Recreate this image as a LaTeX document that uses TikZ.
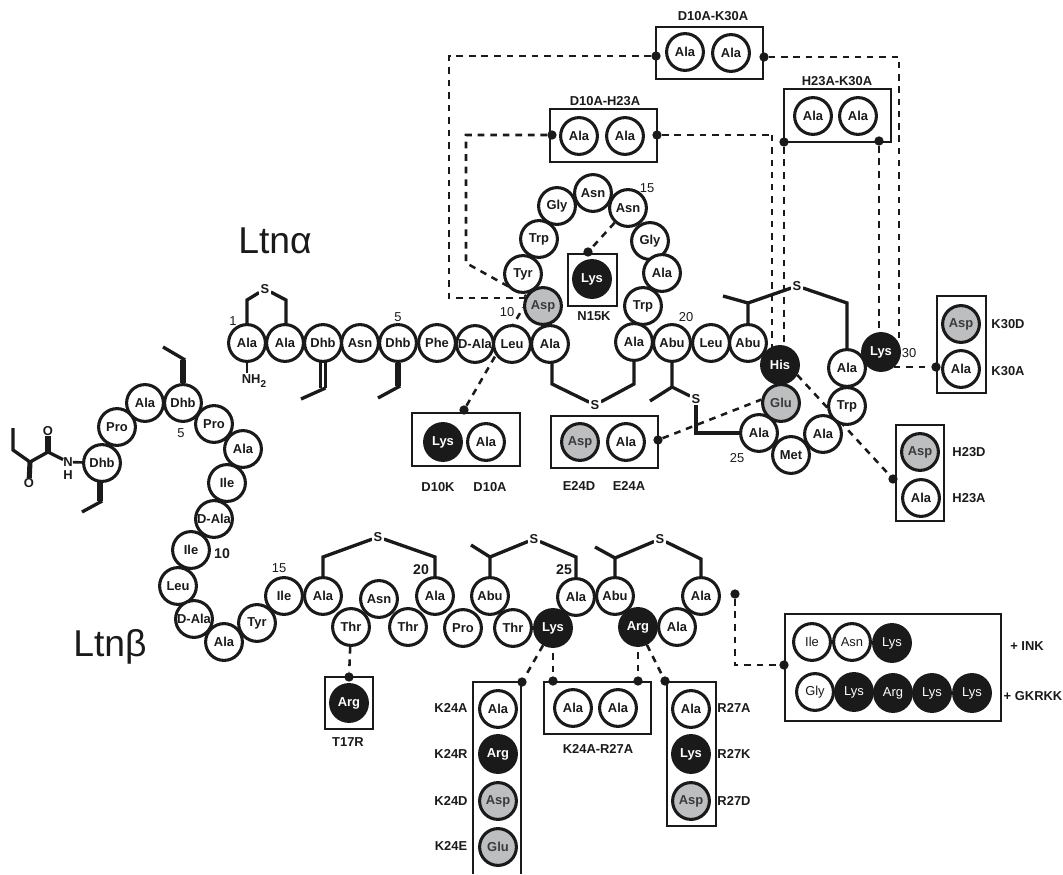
\documentclass[tikz,border=0pt]{standalone}
\usepackage{fontspec}
\setmainfont{Liberation Sans}
\pgfdeclarelayer{bg}
\pgfsetlayers{bg,main}
\definecolor{gr}{HTML}{BDBEC0}
\definecolor{ink}{HTML}{1A1A1A}
\definecolor{gtx}{HTML}{3A3A3A}
\tikzset{
  res/.style={circle,draw=ink,fill=white,line width=2.3pt,minimum size=27.6pt,inner sep=0pt,text=ink,font=\fontsize{9.7}{11}\selectfont\bfseries},
  blk/.style={res,fill=ink,text=white},
  gry/.style={res,fill=gr,text=gtx},
  rw/.style={res,font=\fontsize{9.7}{11}\selectfont},
  rb/.style={blk,font=\fontsize{9.7}{11}\selectfont},
  mbox/.style={draw=ink,line width=1.7pt,inner sep=0pt},
  mdot/.style={circle,fill=ink,inner sep=0pt,minimum size=7pt},
  lab/.style={inner sep=0pt,text=ink,font=\fontsize{9.7}{11}\selectfont\bfseries},
  num/.style={inner sep=0pt,text=ink,font=\fontsize{9.7}{11}\selectfont},
  bnum/.style={inner sep=0pt,text=ink,font=\fontsize{10.6}{12}\selectfont\bfseries},
  sulf/.style={lab,fill=white,inner sep=1pt},
  bond/.style={draw=ink,line width=2.5pt,line join=miter},
  thick bond/.style={draw=ink,line width=4.8pt},
  dbl/.style={draw=ink,line width=1.7pt},
  dsh/.style={draw=ink,line width=1.9pt,dash pattern=on 5pt off 4.4pt},
  dshthin/.style={draw=ink,line width=1.5pt,dash pattern=on 4.8pt off 4.4pt},
  big/.style={inner sep=0pt,text=ink,font=\fontsize{28}{32}\selectfont}
}
\begin{document}
\begin{tikzpicture}[x=0.75pt,y=-0.75pt]
\useasboundingbox (0,0) rectangle (1063,874);
% boxes
\foreach \n/\x/\y/\w/\h in {
 bK/961.5/344.5/49/97, bH/920/473/48/96, bDK/709.5/53/107/52, bDH/603.5/135.5/107/53,
 bHK/837.5/115.5/107/53, bN/592.5/280/49/52, bD/466/439.5/108/53, bE/604.5/442/107/52,
 bT/349/703/48/52, bKR/597.5/708/107/52, bR/691.5/754/49/144, bG/893/667.5/216/107}
  \node[mbox,minimum width=\w*0.75pt,minimum height=\h*0.75pt] (\n) at (\x,\y) {};
\coordinate (kbl) at (473,874); \coordinate (kbtl) at (473,682);
\coordinate (kbtr) at (521,682); \coordinate (kbr) at (521,874);
\draw[draw=ink,line width=1.7pt] (kbl) -- (kbtl) -- (kbtr) -- (kbr);
% Ltn alpha
\foreach \n/\x/\y/\s/\t in {
 a1/247/343/res/Ala, a2/285/343/res/Ala, a3/323/343/res/Dhb, a4/360/343/res/Asn, a5/398/343/res/Dhb,
 a6/437/343/res/Phe, a7/475/344/res/D-Ala, a8/512/344/res/Leu, a9/550/344/res/Ala,
 a10/543/306/gry/Asp, a11/523/274/res/Tyr, a12/539/239/res/Trp, a13/557/206/res/Gly, a14/593/193/res/Asn,
 a15/628/208/res/Asn, a16/650/241/res/Gly, a17/662/273/res/Ala, a18/643/306/res/Trp, a19/634/342/res/Ala,
 a20/672/343/res/Abu, a21/711/343/res/Leu, a22/748/343/res/Abu, a23/780/365/blk/His, a24/781/403/gry/Glu,
 a25/759/433/res/Ala, a26/791/455/res/Met, a27/823/434/res/Ala, a28/847/406/res/Trp, a29/847/368/res/Ala, a30/881/352/blk/Lys}
  \node[\s] (\n) at (\x,\y) {\t};
% Ltn beta
\foreach \n/\x/\y/\s/\t in {
 c1/102/463/res/Dhb, c2/117/427/res/Pro, c3/145/403/res/Ala, c4/183/403/res/Dhb, c5/214/424/res/Pro,
 c6/243/449/res/Ala, c7/227/483/res/Ile, c8/214/519/res/D-Ala, c9/191/550/res/Ile, c10/178/586/res/Leu,
 c11/194/619/res/D-Ala, c12/224/642/res/Ala, c13/257/623/res/Tyr, c14/284/596/res/Ile, c15/323/596/res/Ala,
 c16/351/627/res/Thr, c17/379/599/res/Asn, c18/408/627/res/Thr, c19/435/596/res/Ala, c20/463/628/res/Pro,
 c21/490/596/res/Abu, c22/513/628/res/Thr, c23/553/628/blk/Lys, c24/576/597/res/Ala, c25/615/596/res/Abu,
 c26/638/627/blk/Arg, c27/677/627/res/Ala, c28/701/596/res/Ala}
  \node[\s] (\n) at (\x,\y) {\t};
% box contents
\foreach \n/\x/\y/\s/\t in {
 m1/961/324/gry/Asp, m2/961/369/res/Ala, m3/920/452/gry/Asp, m4/921/498/res/Ala,
 m5/685/52/res/Ala, m6/731/53/res/Ala, m7/579/136/res/Ala, m8/625/136/res/Ala,
 m9/813/116/res/Ala, m10/858/116/res/Ala, m11/592/279/blk/Lys, m12/443/442/blk/Lys, m13/486/442/res/Ala,
 m14/580/442/gry/Asp, m15/626/442/res/Ala, m16/349/703/blk/Arg,
 m17/498/709/res/Ala, m18/498/754/blk/Arg, m19/498/801/gry/Asp, m20/498/847/gry/Glu,
 m21/573/708/res/Ala, m22/618/708/res/Ala, m23/691/709/res/Ala, m24/691/754/blk/Lys, m25/691/801/gry/Asp,
 g1/812/642/rw/Ile, g2/852/642/rw/Asn, g3/892/643/rb/Lys,
 g4/815/692/rw/Gly, g5/854/692/rb/Lys, g6/893/693/rb/Arg, g7/932/693/rb/Lys, g8/972/693/rb/Lys}
  \node[\s] (\n) at (\x,\y) {\t};
% dots
\foreach \n/\x/\y in {
 d1/936/367, d2/893/479, d3/656/56, d4/764/57, d5/552/135, d6/657/135, d7/784/142, d8/879/141,
 d9/588/252, d10/464/410, d11/658/440, d12/349/677, d13/522/682, d14/553/681, d15/638/681, d16/665/681,
 d17/735/594, d18/784/665}
  \node[mdot] (\n) at (\x,\y) {};
% sulfur
\foreach \n/\x/\y in {s1/265/289, s2/595/405, s3/696/399, s4/797/286, s5/378/537, s6/534/539, s7/660/539}
  \node[sulf] (\n) at (\x,\y) {S};
% texts
\foreach \n/\x/\y/\t in {
 t1/713/16/D10A-K30A, t2/605/101/D10A-H23A, t3/837/81/H23A-K30A, t4/594/316/N15K,
 t5/438/487/D10K, t6/490/487/D10A, t7/579/486/E24D, t8/629/486/E24A, t9/1008/324/K30D, t10/1008/371/K30A,
 t11/969/452/H23D, t12/969/498/H23A, t13/348/742/T17R, t14/451/708/K24A, t15/451/754/K24R, t16/451/801/K24D,
 t17/451/846/K24E, t18/598/749/K24A-R27A, t19/734/708/R27A, t20/734/754/R27K, t21/734/801/R27D,
 t22/1027/646/+ INK, t23/1033/696/+ GKRKK}
  \node[lab] (\n) at (\x,\y) {\t};
\foreach \n/\x/\y/\t in {n1/233/321/1, n2/398/317/5, n3/507/312/10, n4/647/188/15, n5/686/317/20, n6/737/458/25, n7/909/353/30, n8/181/433/5, n9/279/568/15}
  \node[num] (\n) at (\x,\y) {\t};
\foreach \n/\x/\y/\t in {n10/222/554/10, n11/421/570/20, n12/564/570/25}
  \node[bnum] (\n) at (\x,\y) {\t};
\node[big] (la) at (275,241) {Ltnα};
\node[big] (lb) at (110,647) {Ltnβ};
\node[lab] (nh2) at (254,381) {NH\raisebox{-2.5pt}{\fontsize{7.5}{9}\selectfont 2}};
% N-terminal group
\node[lab] (nN) at (68,462) {N};
\node[lab] (nH) at (68,475) {H};
\node[lab] (o1) at (48,431) {O};
\node[lab] (o2) at (29,483) {O};
% coordinates for bonds
\foreach \n/\x/\y in {
 p1/247/300, p2/286/300, p3/552/384, p4/634/384, p5/672/387, p6/650/401, p7/696/433,
 p8/748/303, p9/723/296, p10/847/303, p11/323/557, p12/435/557, p13/490/557, p14/471/545,
 p15/576/557, p16/615/558, p17/595/547, p18/701/559, nhb/247/373,
 q1/320.5/388, q2/325.5/388, q3/301/399, q4/398/386, q5/378/398,
 r1/183/360, r2/163/347, r3/100/501, r4/82/512, r5/48/452, r6/30/462, r7/13/450, r8/13/428,
 k1/449/56, k2/449/298, k3/899/57, k4/899/342, h1/466/135, h2/466/263, h3/772/135, f1/735/665}
  \coordinate (\n) at (\x,\y);
\begin{pgfonlayer}{bg}
 % thioether bridges
 \draw[bond] (a1) -- (p1) -- (s1) -- (p2) -- (p2 |- a2);
 \draw[bond] (p3 |- a9) -- (p3) -- (s2) -- (p4) -- (a19);
 \draw[bond] (a20) -- (p5) -- (s3);
 \draw[bond] (p5) -- (p6);
 \draw[bond] (s3) -- (p7) -- (a25);
 \draw[bond] (a22) -- (p8) -- (s4) -- (p10) -- (a29);
 \draw[bond] (p8) -- (p9);
 \draw[bond] (c15) -- (p11) -- (s5) -- (p12) -- (c19);
 \draw[bond] (c21) -- (p13) -- (s6) -- (p15) -- (c24);
 \draw[bond] (p13) -- (p14);
 \draw[bond] (c25) -- (p16) -- (s7) -- (p18) -- (c28);
 \draw[bond] (p16) -- (p17);
 % side chains
 \draw[bond,line width=1.9pt] (a1) -- (nhb);
 \draw[dbl] (q1 |- a3) -- (q1);
 \draw[dbl] (q2 |- a3) -- (q2);
 \draw[bond] (q2) -- (q3);
 \draw[thick bond] (a5) -- (q4);
 \draw[bond] ([xshift=1.6pt]q4) -- (q5);
 \draw[thick bond] (c4) -- (r1);
 \draw[bond] ([xshift=1.6pt]r1) -- (r2);
 \draw[thick bond] (c1 -| r3) -- (r3);
 \draw[bond] ([xshift=1.6pt]r3) -- (r4);
 % N-terminal acyl group
 \draw[bond,line width=2pt] (c1) -- (nN);
 \draw[bond] (nN) -- (r5) -- (r6) -- (r7) -- (r8);
 \draw[thick bond,line width=3.8pt] (r5) -- (o1);
 \draw[thick bond,line width=3.8pt] (r6) -- (o2);
 % dashed connectors
 \draw[dsh] (d3) -- (k1) -- (k2) -- (k2 -| a10);
 \draw[dshthin] (d4) -- (k3) -- (k4);
 \draw[dsh] (d5) -- (h1) -- (h2) -- (a10.150);
 \draw[dsh] (d6) -- (h3);
 \draw[dshthin] (h3) -- (h3 |- a23);
 \draw[dsh] (d7) -- (d7 |- a23);
 \draw[dsh] (d8) -- (d8 |- a30);
 \draw[dsh] (a30 |- d1) -- (d1);
 \draw[dsh] (a23.-30) -- (d2);
 \draw[dsh] (a15) -- (d9);
 \draw[dsh] (d10) -- (a10.185);
 \draw[dsh] (d11) -- (a24.170);
 \draw[dsh] (c16) -- (d12);
 \draw[dsh] (c23) -- (d13);
 \draw[dsh] (d14 |- c23) -- (d14);
 \draw[dsh] (d15 |- c26) -- (d15);
 \draw[dsh] (c26) -- (d16);
 \draw[dsh] (d17) -- (f1) -- (d18);
\end{pgfonlayer}
\end{tikzpicture}
\end{document}
